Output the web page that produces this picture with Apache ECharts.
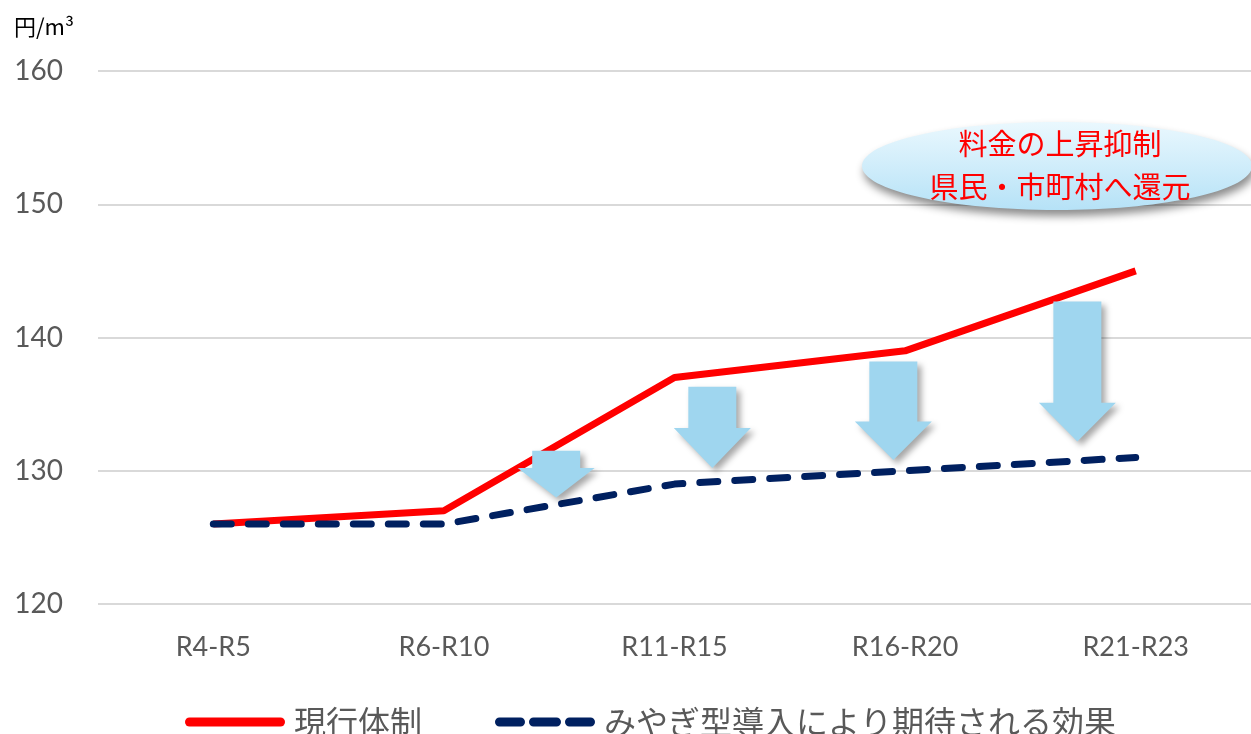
<!DOCTYPE html>
<html><head><meta charset="utf-8">
<script src="https://cdn.jsdelivr.net/npm/echarts@6/dist/echarts.min.js"></script>
<style>html,body{margin:0;padding:0;background:#fff}#c{width:1251px;height:734px}</style>
</head><body><div id="c"></div>
<script>
const categories = ['R4-R5', 'R6-R10', 'R11-R15', 'R16-R20', 'R21-R23'];
const currentSystem = [126, 127, 137, 139, 145];
const miyagiModel = [126, 126, 129, 130, 131];
const seriesNames = ['現行体制', 'みやぎ型導入により期待される効果'];
const yTicks = { min: 120, max: 160, interval: 10 };
const unitLabel = '円/m³';
const calloutLines = ['料金の上昇抑制', '県民・市町村へ還元'];
// decorative arrows: x position (category units), top value, head start value, tip value
const arrowX = [1.487, 2.164, 2.949, 3.747];
const arrowTop = [131.5, 136.3, 138.2, 142.7];
const arrowHead = [130.2, 133.2, 133.7, 135.1];
const arrowTip = [128.0, 130.2, 130.8, 132.2];

const arrowData = arrowX.map((x, i) => [x, arrowTop[i], arrowHead[i], arrowTip[i]]);

const chart = echarts.init(document.getElementById('c'));
const CJK = '"Noto Sans CJK JP", "Noto Sans", sans-serif';
const NUM = 'Lato, "Noto Sans", sans-serif';

const solidIcon = 'path://M4.5,0H95.5A4.5,4.5,0,0,1,95.5,9H4.5A4.5,4.5,0,0,1,4.5,0Z';
const dashIcon = 'path://M4.5,0H25.5A4.5,4.5,0,0,1,25.5,9H4.5A4.5,4.5,0,0,1,4.5,0Z' +
  'M38.5,0H61.5A4.5,4.5,0,0,1,61.5,9H38.5A4.5,4.5,0,0,1,38.5,0Z' +
  'M74.5,0H95.5A4.5,4.5,0,0,1,95.5,9H74.5A4.5,4.5,0,0,1,74.5,0Z';

chart.setOption({
  animation: false,
  title: { text: unitLabel, left: 9, top: 11, textStyle: { fontSize: 22, fontWeight: 'normal', color: '#000', fontFamily: CJK } },
  grid: { left: 98, right: 0, top: 71, bottom: 130 },
  legend: {
    data: [
      { name: seriesNames[0], icon: solidIcon },
      { name: seriesNames[1], icon: dashIcon }
    ],
    left: 180, top: 701, itemWidth: 100, itemHeight: 9, itemGap: 73,
    textStyle: { fontSize: 32, color: '#595959', fontFamily: CJK, padding: [0, 0, 0, 4] }
  },
  xAxis: [
    {
      type: 'category', data: categories, boundaryGap: true,
      axisLine: { show: false }, axisTick: { show: false },
      axisLabel: { fontSize: 27, color: '#595959', fontFamily: NUM, margin: 30 }
    },
    { type: 'value', min: -0.5, max: 4.5, show: false }
  ],
  yAxis: {
    type: 'value', min: yTicks.min, max: yTicks.max, interval: yTicks.interval,
    axisLine: { show: false }, axisTick: { show: false },
    axisLabel: { fontSize: 28, color: '#595959', fontFamily: NUM, margin: 35 },
    splitLine: { lineStyle: { color: '#d9d9d9', width: 2 } }
  },
  series: [
    {
      name: seriesNames[0], type: 'line', data: currentSystem, symbol: 'none', z: 3,
      lineStyle: { color: '#ff0000', width: 7 }, itemStyle: { color: '#ff0000' }
    },
    {
      name: seriesNames[1], type: 'line', data: miyagiModel, symbol: 'none', z: 4,
      lineStyle: { color: '#002060', width: 7, type: [18, 17], cap: 'round' }, itemStyle: { color: '#002060' }
    },
    {
      name: 'arrows', type: 'custom', xAxisIndex: 1, yAxisIndex: 0, z: 5, silent: true,
      data: arrowData,
      renderItem: function (params, api) {
        const top = api.coord([api.value(0), api.value(1)]);
        const head = api.coord([api.value(0), api.value(2)]);
        const tip = api.coord([api.value(0), api.value(3)]);
        const cx = top[0], sw = 24, hw = 38.5;
        return {
          type: 'polygon',
          shape: { points: [
            [cx - sw, top[1]], [cx + sw, top[1]], [cx + sw, head[1]], [cx + hw, head[1]],
            [cx, tip[1]], [cx - hw, head[1]], [cx - sw, head[1]]
          ] },
          style: { fill: '#9fd6ef', shadowColor: 'rgba(0,0,0,0.35)', shadowBlur: 6, shadowOffsetX: 4, shadowOffsetY: 4 }
        };
      }
    }
  ],
  graphic: [
    {
      type: 'ellipse', z: 10,
      shape: { cx: 1057, cy: 166, rx: 195, ry: 44 },
      style: {
        fill: new echarts.graphic.LinearGradient(0, 0, 0, 1, [
          { offset: 0, color: '#eaf8fe' }, { offset: 1, color: '#b6e2f7' }
        ]),
        shadowColor: 'rgba(0,0,0,0.45)', shadowBlur: 8, shadowOffsetX: 2, shadowOffsetY: 6
      }
    },
    {
      type: 'text', z: 11,
      style: { text: calloutLines[0], x: 1060, y: 144, fill: '#ff0000', fontSize: 29, fontFamily: CJK, align: 'center', verticalAlign: 'middle' }
    },
    {
      type: 'text', z: 11,
      style: { text: calloutLines[1], x: 1060, y: 187, fill: '#ff0000', fontSize: 29, fontFamily: CJK, align: 'center', verticalAlign: 'middle' }
    }
  ]
});
</script></body></html>
